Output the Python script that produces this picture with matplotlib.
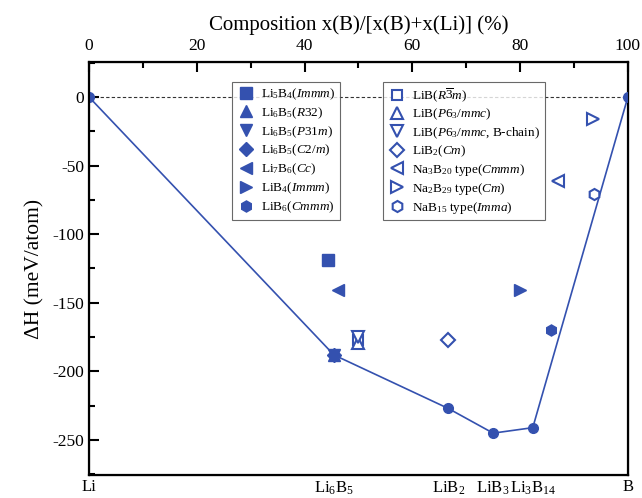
import matplotlib
matplotlib.use("Agg")
import matplotlib.pyplot as plt
from matplotlib.ticker import MultipleLocator

plt.rcParams['font.family'] = ['Liberation Serif', 'DejaVu Serif']
plt.rcParams['mathtext.fontset'] = 'custom'
plt.rcParams['mathtext.rm'] = 'Liberation Serif'
plt.rcParams['mathtext.it'] = 'Liberation Serif:italic'
plt.rcParams['mathtext.bf'] = 'Liberation Serif:bold'
plt.rcParams['axes.unicode_minus'] = False

C = '#3451AF'

# Convex hull
hull_x = [0, 45.45, 66.67, 75.0, 82.35, 100]
hull_y = [0, -188, -227, -245, -241, 0]
hull_labels = ['Li', 'Li$_6$B$_5$', 'LiB$_2$', 'LiB$_3$', 'Li$_3$B$_{14}$', 'B']

# Structures (filled markers)
filled_names = ['Li$_5$B$_4$($\\it{Immm}$)', 'Li$_6$B$_5$($\\it{R}$32)', 'Li$_6$B$_5$($\\it{P}$31$\\it{m}$)',
                'Li$_6$B$_5$($\\it{C}$2/$\\it{m}$)', 'Li$_7$B$_6$($\\it{Cc}$)', 'LiB$_4$($\\it{Immm}$)',
                'LiB$_6$($\\it{Cmmm}$)']
filled_x = [44.44, 45.45, 45.45, 45.45, 46.15, 80.0, 85.71]
filled_y = [-119, -188, -188, -188, -141, -141, -170]
filled_markers = ['s', '^', 'v', 'D', '<', '>', 'h']

# Structures (open markers)
open_names = ['LiB($\\it{R}\\overline{3}\\it{m}$)', 'LiB($\\it{P}$6$_3$/$\\it{mmc}$)',
              'LiB($\\it{P}$6$_3$/$\\it{mmc}$, B-chain)', 'LiB$_2$($\\it{Cm}$)',
              'Na$_3$B$_{20}$ type($\\it{Cmmm}$)', 'Na$_2$B$_{29}$ type($\\it{Cm}$)',
              'NaB$_{15}$ type($\\it{Imma}$)']
open_x = [50.0, 50.0, 50.0, 66.67, 86.96, 93.55, 93.75]
open_y = [-177, -179, -175, -177, -61, -16, -71]
open_markers = ['s', '^', 'v', 'D', '<', '>', 'h']

fig = plt.figure(figsize=(6.42, 4.98), dpi=100)
ax = fig.add_axes([0.1386, 0.0462, 0.8394, 0.8293])

ax.axhline(0, color='#333333', ls='--', lw=0.8, dashes=(3, 2), zorder=1)
ax.plot(hull_x, hull_y, '-o', color=C, lw=1.2, ms=7, zorder=3)

h1 = []
for x, y, m, n in zip(filled_x, filled_y, filled_markers, filled_names):
    ms = 7 if m in ('D',) else 8
    h, = ax.plot([x], [y], ls='none', marker=m, color=C, ms=ms, label=n, zorder=4)
    h1.append(h)
h2 = []
for x, y, m, n in zip(open_x, open_y, open_markers, open_names):
    ms = 7 if m in ('D', 's') else 8
    h, = ax.plot([x], [y], ls='none', marker=m, mfc='white', mec=C, mew=1.5, ms=ms, label=n, zorder=4)
    h2.append(h)

ax.set_xlim(0, 100)
ax.set_ylim(-275.5, 25.5)
ax.set_xticks(hull_x)
ax.set_xticklabels(hull_labels, fontsize=12)
ax.tick_params(axis='x', length=0, pad=3)
ax.yaxis.set_major_locator(MultipleLocator(50))
ax.yaxis.set_minor_locator(MultipleLocator(25))
ax.tick_params(axis='y', which='major', direction='in', length=7, width=1.5, labelsize=12.5)
ax.tick_params(axis='y', which='minor', direction='in', length=4, width=1.5)
ax.set_ylabel('ΔH (meV/atom)', fontsize=15.5, labelpad=6)
for s in ax.spines.values():
    s.set_linewidth(1.6)

ax2 = ax.twiny()
ax2.set_xlim(0, 100)
ax2.xaxis.set_major_locator(MultipleLocator(20))
ax2.xaxis.set_minor_locator(MultipleLocator(10))
ax2.tick_params(axis='x', which='major', direction='in', length=7, width=1.5, labelsize=12.5, pad=5.5)
ax2.tick_params(axis='x', which='minor', direction='in', length=4, width=1.5)
ax2.set_xlabel('Composition x(B)/[x(B)+x(Li)] (%)', fontsize=15, labelpad=6)

leg_kw = dict(fontsize=9.5, frameon=True, fancybox=False, edgecolor='#444444', borderaxespad=0,
              handletextpad=0.4, borderpad=0.35, handlelength=1.5)
leg1 = ax.legend(handles=h1, loc='upper left', bbox_to_anchor=(0.265, 0.952), labelspacing=0.26, **leg_kw)
leg1.get_frame().set_linewidth(0.8)
ax.add_artist(leg1)
leg2 = ax.legend(handles=h2, loc='upper left', bbox_to_anchor=(0.545, 0.952), labelspacing=0.22, **leg_kw)
leg2.get_frame().set_linewidth(0.8)

fig.savefig('out.png', dpi=100)
